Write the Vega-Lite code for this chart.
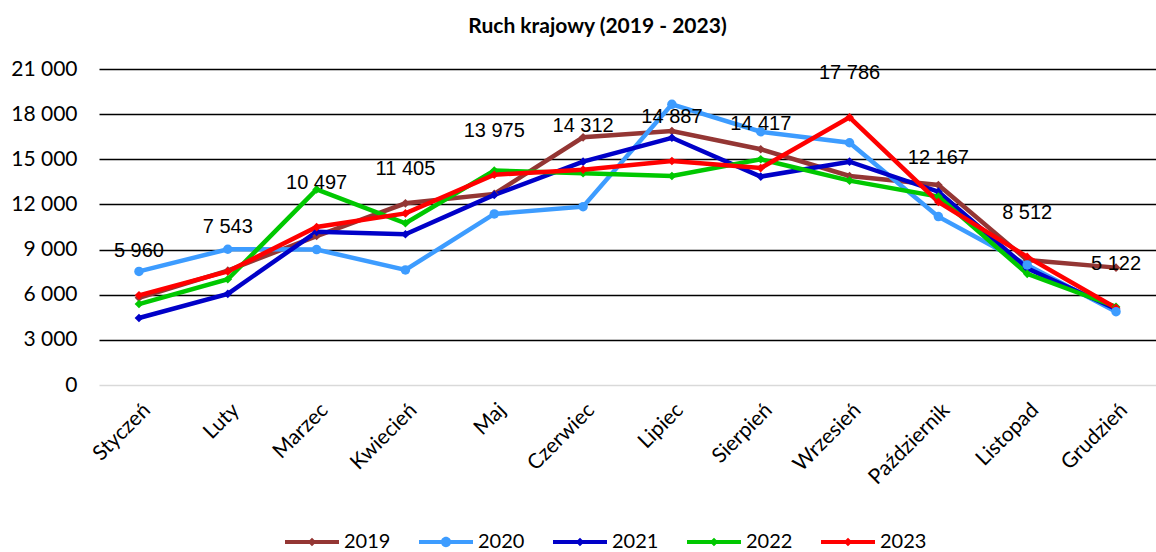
{
  "$schema": "https://vega.github.io/schema/vega-lite/v6.json",
  "width": 1057,
  "height": 316,
  "autosize": {"type": "none"},
  "padding": {"left": 99, "top": 69, "right": 0, "bottom": 167},
  "background": "white",
  "title": {"text": "Ruch krajowy (2019 - 2023)", "font": "Lato", "fontSize": 21, "fontWeight": "bold", "color": "black", "anchor": "middle", "offset": 21, "dx": -30},
  "config": {
    "locale": {"number": {"decimal": ",", "thousands": " ", "grouping": [3], "currency": ["", " zł"]}},
    "view": {"stroke": null}
  },
  "data": {"values": [
    {"month": "Styczeń", "year": "2019", "value": 5800},
    {"month": "Luty", "year": "2019", "value": 7600},
    {"month": "Marzec", "year": "2019", "value": 9900},
    {"month": "Kwiecień", "year": "2019", "value": 12075},
    {"month": "Maj", "year": "2019", "value": 12700},
    {"month": "Czerwiec", "year": "2019", "value": 16460},
    {"month": "Lipiec", "year": "2019", "value": 16880},
    {"month": "Sierpień", "year": "2019", "value": 15665},
    {"month": "Wrzesień", "year": "2019", "value": 13890},
    {"month": "Październik", "year": "2019", "value": 13290},
    {"month": "Listopad", "year": "2019", "value": 8300},
    {"month": "Grudzień", "year": "2019", "value": 7800},
    {"month": "Styczeń", "year": "2020", "value": 7550},
    {"month": "Luty", "year": "2020", "value": 9020},
    {"month": "Marzec", "year": "2020", "value": 9000},
    {"month": "Kwiecień", "year": "2020", "value": 7650},
    {"month": "Maj", "year": "2020", "value": 11370},
    {"month": "Czerwiec", "year": "2020", "value": 11850},
    {"month": "Lipiec", "year": "2020", "value": 18650},
    {"month": "Sierpień", "year": "2020", "value": 16830},
    {"month": "Wrzesień", "year": "2020", "value": 16100},
    {"month": "Październik", "year": "2020", "value": 11190},
    {"month": "Listopad", "year": "2020", "value": 7980},
    {"month": "Grudzień", "year": "2020", "value": 4870},
    {"month": "Styczeń", "year": "2021", "value": 4450},
    {"month": "Luty", "year": "2021", "value": 6060},
    {"month": "Marzec", "year": "2021", "value": 10180},
    {"month": "Kwiecień", "year": "2021", "value": 10020},
    {"month": "Maj", "year": "2021", "value": 12630},
    {"month": "Czerwiec", "year": "2021", "value": 14840},
    {"month": "Lipiec", "year": "2021", "value": 16430},
    {"month": "Sierpień", "year": "2021", "value": 13850},
    {"month": "Wrzesień", "year": "2021", "value": 14840},
    {"month": "Październik", "year": "2021", "value": 12850},
    {"month": "Listopad", "year": "2021", "value": 7760},
    {"month": "Grudzień", "year": "2021", "value": 5050},
    {"month": "Styczeń", "year": "2022", "value": 5380},
    {"month": "Luty", "year": "2022", "value": 7030},
    {"month": "Marzec", "year": "2022", "value": 13000},
    {"month": "Kwiecień", "year": "2022", "value": 10750},
    {"month": "Maj", "year": "2022", "value": 14250},
    {"month": "Czerwiec", "year": "2022", "value": 14070},
    {"month": "Lipiec", "year": "2022", "value": 13890},
    {"month": "Sierpień", "year": "2022", "value": 15000},
    {"month": "Wrzesień", "year": "2022", "value": 13580},
    {"month": "Październik", "year": "2022", "value": 12520},
    {"month": "Listopad", "year": "2022", "value": 7390},
    {"month": "Grudzień", "year": "2022", "value": 5200},
    {"month": "Styczeń", "year": "2023", "value": 5960},
    {"month": "Luty", "year": "2023", "value": 7543},
    {"month": "Marzec", "year": "2023", "value": 10497},
    {"month": "Kwiecień", "year": "2023", "value": 11405},
    {"month": "Maj", "year": "2023", "value": 13975},
    {"month": "Czerwiec", "year": "2023", "value": 14312},
    {"month": "Lipiec", "year": "2023", "value": 14887},
    {"month": "Sierpień", "year": "2023", "value": 14417},
    {"month": "Wrzesień", "year": "2023", "value": 17786},
    {"month": "Październik", "year": "2023", "value": 12167},
    {"month": "Listopad", "year": "2023", "value": 8512},
    {"month": "Grudzień", "year": "2023", "value": 5122}
  ]},
  "encoding": {
    "x": {
      "field": "month", "type": "nominal",
      "sort": ["Styczeń", "Luty", "Marzec", "Kwiecień", "Maj", "Czerwiec", "Lipiec", "Sierpień", "Wrzesień", "Październik", "Listopad", "Grudzień"],
      "scale": {"type": "point", "padding": 0.45},
      "axis": {"title": null, "labelAngle": -45, "labelFont": "Lato", "labelFontSize": 21, "labelColor": "black", "ticks": false, "domain": false, "labelPadding": 14, "grid": false}
    },
    "y": {
      "field": "value", "type": "quantitative",
      "scale": {"domain": [0, 21000], "nice": false, "zero": true},
      "axis": {
        "title": null, "values": [0, 3000, 6000, 9000, 12000, 15000, 18000, 21000], "format": ",.0f",
        "labelFont": "Lato", "labelFontSize": 21, "labelColor": "black", "ticks": false, "domain": false, "labelPadding": 22,
        "grid": true, "gridWidth": 1.5,
        "gridColor": {"condition": {"test": "datum.value === 0", "value": "#d9d9d9"}, "value": "#000000"}
      }
    },
    "color": {
      "field": "year", "type": "nominal",
      "scale": {"domain": ["2019", "2020", "2021", "2022", "2023"], "range": ["#943634", "#3d9cff", "#0000c8", "#00c800", "#ff0000"]},
      "legend": {
        "title": null, "orient": "none", "direction": "horizontal", "legendX": 186, "legendY": 446,
        "symbolSize": 2916, "symbolStrokeWidth": 0,
        "symbolType": "M-1,-0.075L1,-0.075L1,0.075L-1,0.075Z M0,-0.16L0.16,0L0,0.16L-0.16,0Z",
        "labelFont": "Lato", "labelFontSize": 20, "labelColor": "black", "labelOffset": 5, "columnPadding": 28,
        "encode": {"symbols": {"update": {
          "shape": {"signal": "datum.value === '2020' ? 'M-1,-0.075L1,-0.075L1,0.075L-1,0.075Z M0.19,0A0.19,0.19 0 1 1 -0.19,0A0.19,0.19 0 1 1 0.19,0Z' : 'M-1,-0.075L1,-0.075L1,0.075L-1,0.075Z M0,-0.16L0.16,0L0,0.16L-0.16,0Z'"},
          "fill": {"signal": "scale('color', datum.value)"},
          "stroke": {"value": "transparent"},
          "opacity": {"value": 1}
        }}}
      }
    }
  },
  "layer": [
    {
      "mark": {"type": "line", "strokeWidth": 4.5}
    },
    {
      "transform": [{"filter": "datum.year !== '2020'"}],
      "mark": {"type": "point", "filled": true, "opacity": 1, "size": 75, "shape": "diamond"}
    },
    {
      "transform": [{"filter": "datum.year === '2020'"}],
      "mark": {"type": "point", "filled": true, "opacity": 1, "size": 90, "shape": "circle"}
    },
    {
      "transform": [{"filter": "datum.year === '2023'"}],
      "mark": {"type": "text", "font": "Liberation Sans", "fontSize": 20, "color": "black", "dy": -34, "baseline": "bottom"},
      "encoding": {
        "text": {"field": "value", "type": "quantitative", "format": ",.0f"},
        "color": {"value": "black"}
      }
    }
  ]
}
